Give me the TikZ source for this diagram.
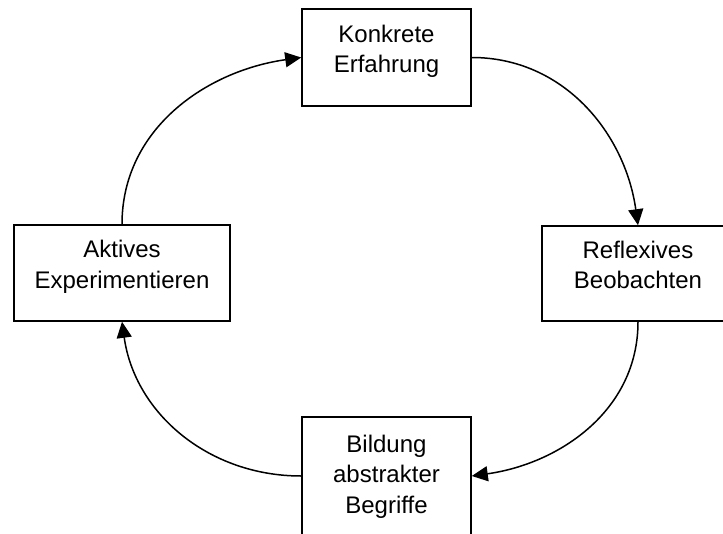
\documentclass[tikz,border=0pt]{standalone}
\usepackage{fontspec}
\setmainfont{Liberation Sans}
\usetikzlibrary{arrows.meta}
% invisible rules that fix the height of the first line and the depth of the last
\newcommand\toprule[1]{\rule{0pt}{#1}}
\newcommand\botrule[1]{\rule[-#1]{0pt}{#1}}
\begin{document}
\begin{tikzpicture}[x=1pt,y=1pt,
  stage/.style={draw, line width=1.6pt, align=center, inner sep=0pt,
    font=\fontsize{24}{30.5}\selectfont},
  cycle/.style={line width=1.5pt, -{Triangle[length=16pt,width=15pt]}}]
  \clip (0,0) rectangle (723,-533);
  % the four stages of the learning cycle
  \node[stage, minimum width=169pt, minimum height=97pt] (ke) at (386.5,-57.5)
    {\toprule{18pt}Konkrete\\Erfahrung\botrule{18pt}};
  \node[stage, minimum width=192pt, minimum height=95pt] (rb) at (638,-273.5)
    {\toprule{18pt}Reflexives\\Beobachten\botrule{18pt}};
  \node[stage, minimum width=169pt, minimum height=118pt] (ba) at (386.5,-476)
    {\toprule{20pt}Bildung\\abstrakter\\Begriffe\botrule{7pt}};
  \node[stage, minimum width=216pt, minimum height=96pt] (ae) at (122,-273)
    {\toprule{18pt}Aktives\\Experimentieren\botrule{18pt}};
  % curved arrows running clockwise
  \draw[cycle] (ke.east) to[out=0,in=98] (rb.north);
  \draw[cycle] (rb.south) to[out=-90,in=8] (ba.east);
  \draw[cycle] (ba.west) to[out=180,in=-82] (ae.south);
  \draw[cycle] (ae.north) to[out=90,in=188] (ke.west);
\end{tikzpicture}
\end{document}
